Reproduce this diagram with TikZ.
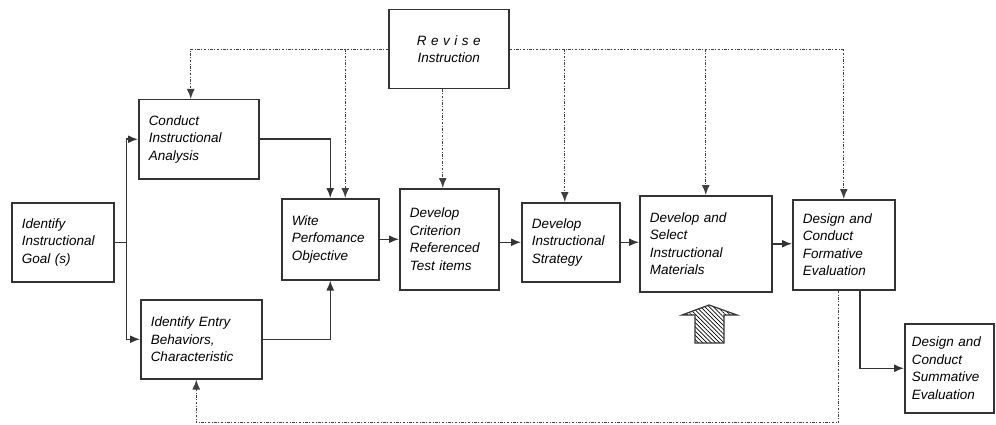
\documentclass[tikz,border=0pt]{standalone}
\usepackage{fontspec}
\setmainfont{Liberation Sans}
\usetikzlibrary{arrows.meta}
\usetikzlibrary{patterns.meta}

\begin{document}
\begin{tikzpicture}[x=1pt,y=-1pt,->,>={Latex[length=10pt,width=8pt]},line width=1.5pt,draw=black!80,
	stage/.style={draw,-,anchor=north west,align=left,inner xsep=10pt,inner ysep=0pt,
		font=\itshape\fontsize{13.5}{17.5}\selectfont},
	revise/.style={draw=black!75,line width=1.4pt,dash pattern=on 2.5pt off 1.5pt on 1pt off 1.5pt}]
	\useasboundingbox (0,0) rectangle (996,425);
	
	\node[stage,text width=82pt,minimum height=79pt] (goal) at (11,202) {Identify\\Instructional\\Goal (s)};
	\node[stage,text width=100pt,minimum height=79pt] (conduct) at (138,99) {Conduct\\Instructional\\Analysis};
	\node[stage,text width=101pt,minimum height=79pt] (entry) at (140,299) {Identify Entry\\Behaviors,\\Characteristic};
	\node[stage,text width=77pt,minimum height=81pt] (write) at (281,198) {Wite\\Perfomance\\Objective};
	\node[stage,text width=79pt,minimum height=101pt] (criterion) at (399,188) {Develop\\Criterion\\Referenced\\Test items};
	\node[stage,text width=78pt,minimum height=79pt] (strategy) at (521,202) {Develop\\Instructional\\Strategy};
	\node[stage,text width=112pt,minimum height=96pt] (materials) at (639,195) {Develop and\\Select\\Instructional\\Materials};
	\node[stage,text width=82pt,minimum height=90pt] (formative) at (792,199) {Design and\\Conduct\\Formative\\Evaluation};
	\node[stage,inner xsep=7pt,text width=75pt,minimum height=89pt] (summative) at (904,323) {Design and\\Conduct\\Summative\\Evaluation};
	\node[stage,align=center,text width=100pt,minimum height=79pt] (revise) at (388,9) {R e v i s e\\Instruction\\[10pt]};
	
	% main flow
	\draw[-] (goal.east) -- ++(12,0) coordinate (split);
	\draw (split) |- (conduct.west);
	\draw (split) |- (entry.west);
	\draw (conduct.east) -| (write.north);
	\draw (entry.east) -| (write.south);
	\draw (write.east) -- (criterion.west);
	\draw (criterion.east |- strategy.west) -- (strategy.west);
	\draw (strategy.east) -- (strategy.east -| materials.west);
	\draw (materials.east) -- (materials.east -| formative.west);
	\draw ([xshift=16pt]formative.south) |- (summative.west);
	
	% revision loops
	\coordinate (wdrop) at ([xshift=15pt]write.north);
	\coordinate (sdrop) at ([xshift=-6pt]strategy.north);
	\draw[revise] (revise.west) -| ([xshift=-8pt]conduct.north);
	\draw[revise] (wdrop |- revise.west) -- (wdrop);
	\draw[revise] ([xshift=-6pt]revise.south) -- ([xshift=-6pt]revise.south |- criterion.north);
	\draw[revise] (revise.east) -| (formative.north);
	\draw[revise] (sdrop |- revise.east) -- (sdrop);
	\draw[revise] (materials.north |- revise.east) -- (materials.north);
	\draw[revise] ([xshift=-5pt]formative.south) -- ++(0,132) -| ([xshift=-5pt]entry.south);
	
	% hatched arrow
	\draw[-,line width=1.2pt,pattern={Lines[angle=-45,distance=3pt,line width=0.7pt]}]
	(695,343) -- (695,315) -- (682,315) -- (709,305) -- (737,315) -- (724,315) -- (724,343) -- cycle;
\end{tikzpicture}
\end{document}
